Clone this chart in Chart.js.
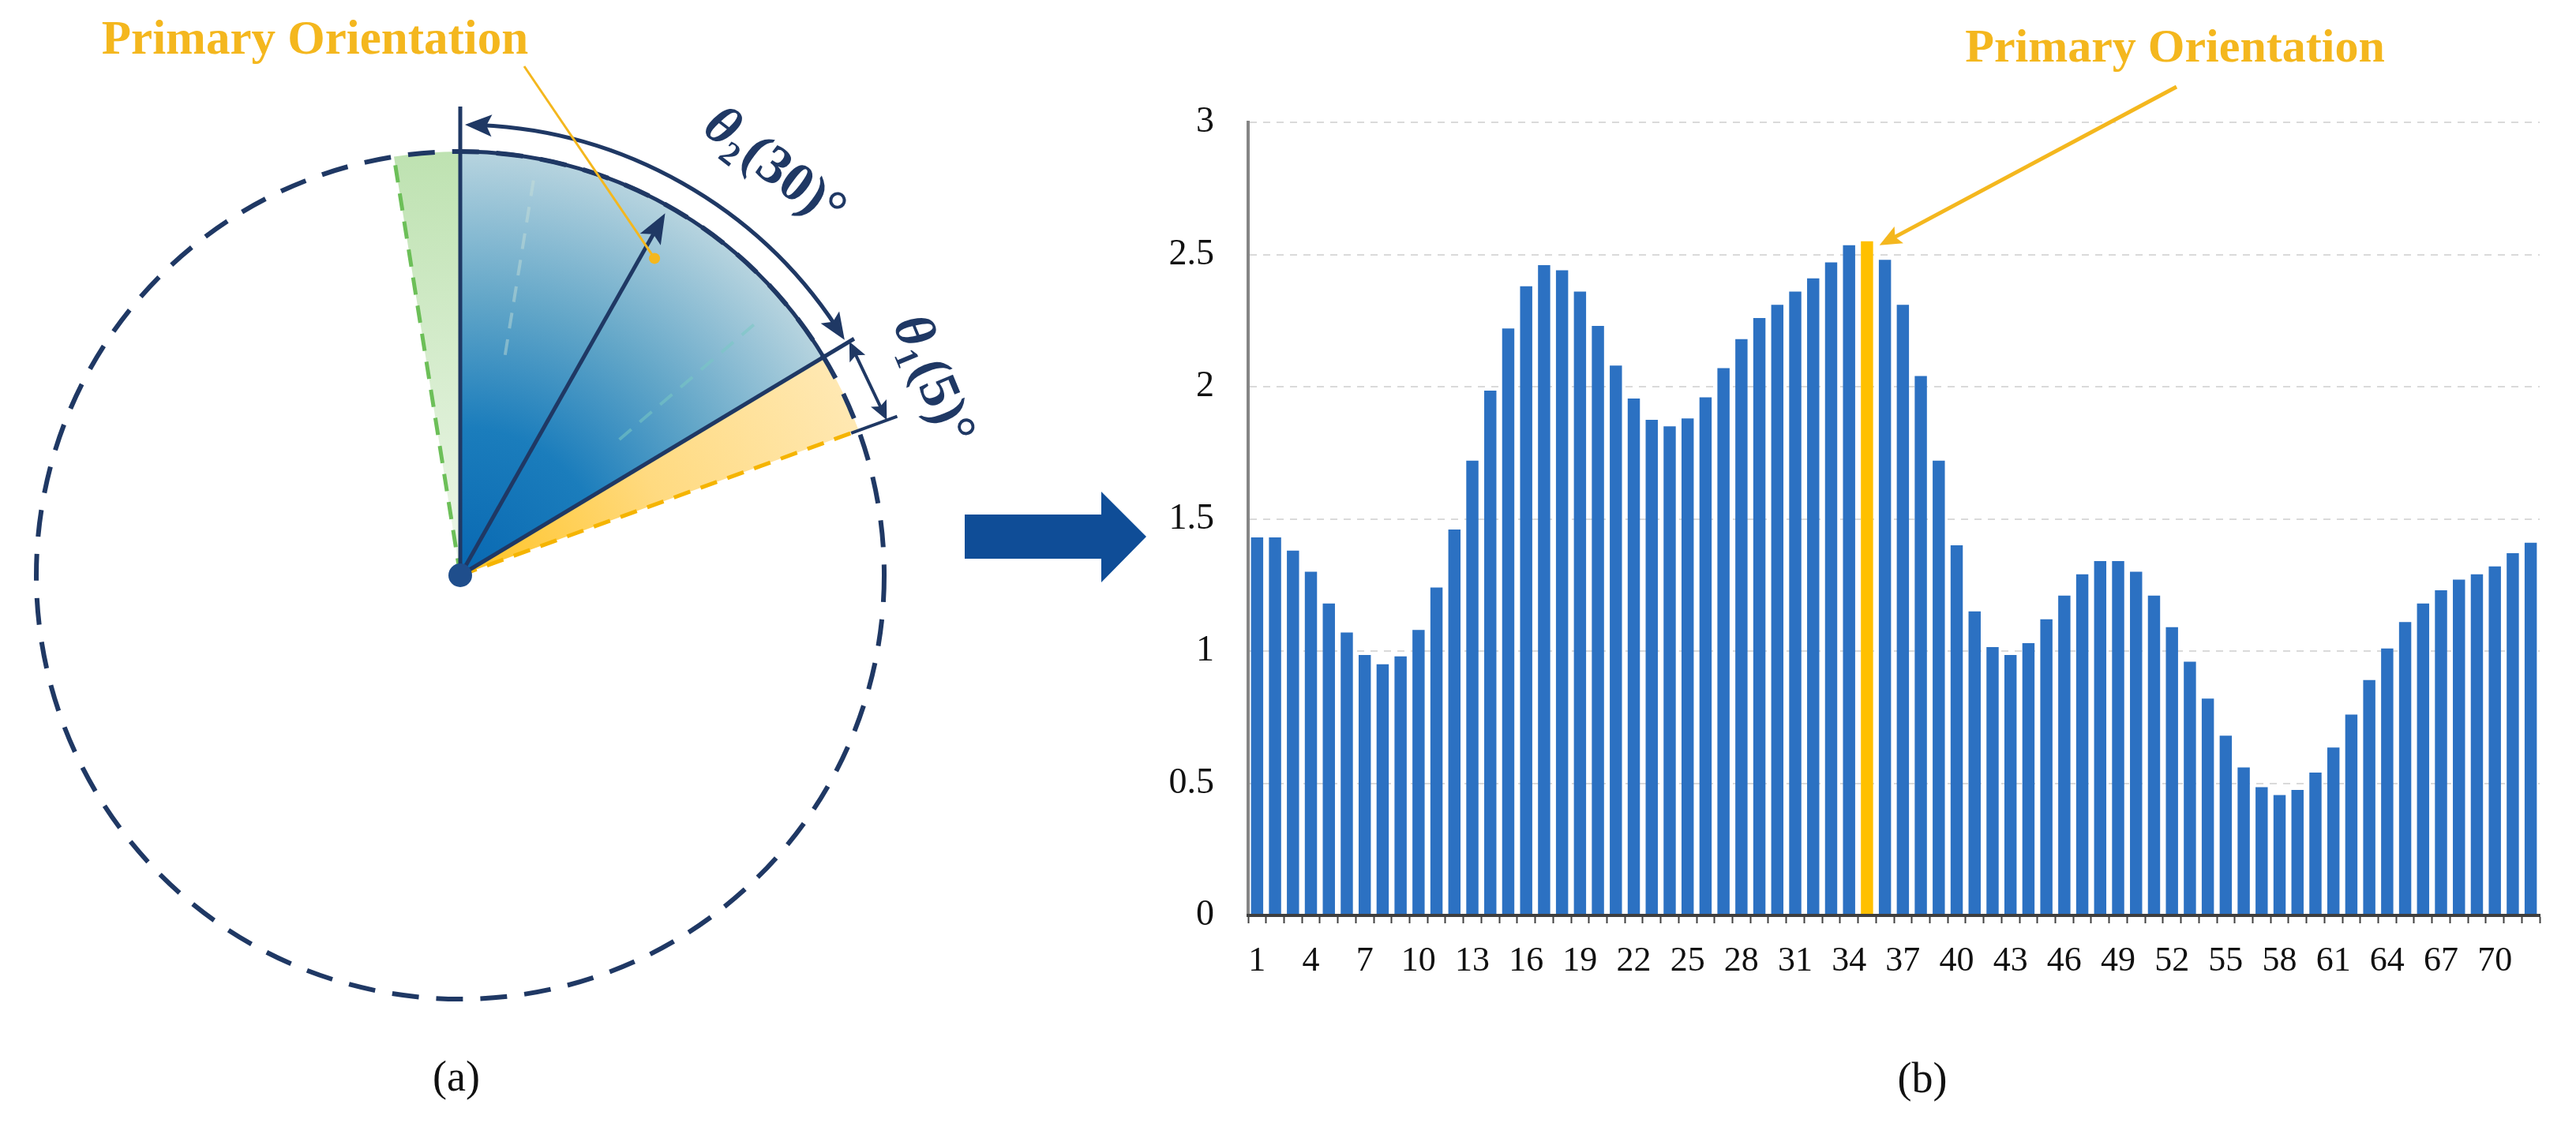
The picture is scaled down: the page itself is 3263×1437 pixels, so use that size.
<!DOCTYPE html>
<html><head><meta charset="utf-8">
<script src="https://cdn.jsdelivr.net/npm/chart.js@4.4.1/dist/chart.umd.min.js"></script>
<style>
html,body{margin:0;padding:0;background:#fff;}
body{width:3263px;height:1437px;position:relative;overflow:hidden;}
#ca{position:absolute;left:0;top:0;}
#cb{position:absolute;left:1440px;top:0;}
</style></head><body>
<canvas id="ca" width="1480" height="1437" style="width:1480px;height:1437px"></canvas>
<canvas id="cb" width="1823" height="1437" style="width:1823px;height:1437px"></canvas>
<script>
// ---------- data ----------
const binLabels = ['1','2','3','4','5','6','7','8','9','10','11','12','13','14','15','16','17','18','19','20',
  '21','22','23','24','25','26','27','28','29','30','31','32','33','34','35','36','37','38','39','40',
  '41','42','43','44','45','46','47','48','49','50','51','52','53','54','55','56','57','58','59','60',
  '61','62','63','64','65','66','67','68','69','70','71','72'];
const binValues = [1.43,1.43,1.38,1.30,1.18,1.07,0.985,0.95,0.98,1.08,
  1.24,1.46,1.72,1.985,2.22,2.38,2.46,2.44,2.36,2.23,
  2.08,1.955,1.875,1.85,1.88,1.96,2.07,2.18,2.26,2.31,
  2.36,2.41,2.47,2.535,2.55,2.48,2.31,2.04,1.72,1.40,
  1.15,1.015,0.985,1.03,1.12,1.21,1.29,1.34,1.34,1.30,
  1.21,1.09,0.96,0.82,0.68,0.56,0.485,0.455,0.475,0.54,
  0.635,0.76,0.89,1.01,1.11,1.18,1.23,1.27,1.29,1.32,
  1.37,1.41];
const tickEvery = 3;
const yMin = 0, yMax = 3, yStep = 0.5;
const sectorNames = ['Neighbour bin','θ2 window','θ1 step','Other directions'];
const sectorDegrees = [9, 59, 11, 281];
const sectorRotation = -9;
const primaryText = 'Primary Orientation';
const theta2Parts = ['θ','2','(30)°'];
const theta1Parts = ['θ','1','(5)°'];
const panelLabels = ['(a)','(b)'];

// ---------- styles ----------
const SERIF = "'Liberation Serif','Times New Roman',serif";
const NAVY = '#1F3864';
const GOLD = '#F4B71E';
const BLUE = '#2C71C2';
const YELLOW = '#FFC000';

function head(ctx, x, y, ang, len, wid, color){
  ctx.save(); ctx.translate(x,y); ctx.rotate(ang);
  ctx.beginPath(); ctx.moveTo(0,0); ctx.lineTo(-len, wid/2); ctx.lineTo(-len*0.8,0); ctx.lineTo(-len,-wid/2); ctx.closePath();
  ctx.fillStyle = color; ctx.fill(); ctx.restore();
}

// ---------- panel (a) ----------
function sectorFill(c){
  const chart = c.chart, ca = chart.chartArea;
  if (!ca) return 'rgba(0,0,0,0)';
  const cx=(ca.left+ca.right)/2, cy=(ca.top+ca.bottom)/2, r=Math.min(ca.width,ca.height)/2;
  const g = chart.ctx.createRadialGradient(cx,cy,0,cx,cy,r);
  if (c.dataIndex===0){ g.addColorStop(0,'#EEF7EA'); g.addColorStop(1,'#BEE2B1'); }
  else if (c.dataIndex===1){ g.addColorStop(0,'#0868B2'); g.addColorStop(0.35,'#1B7DBC'); g.addColorStop(0.65,'#62A6C8'); g.addColorStop(1,'#B7D4DF'); }
  else if (c.dataIndex===2){ g.addColorStop(0,'#FFC21F'); g.addColorStop(0.5,'#FFDA80'); g.addColorStop(1,'#FFE8B2'); }
  else return 'rgba(0,0,0,0)';
  return g;
}

function thetaLabel(ctx, parts, x, y, rot, size){
  ctx.save(); ctx.translate(x,y); ctx.rotate(rot);
  const f1 = `italic bold ${size}px ${SERIF}`, f2 = `bold ${Math.round(size*0.6)}px ${SERIF}`, f3 = `bold ${size}px ${SERIF}`;
  ctx.font=f1; const w1=ctx.measureText(parts[0]).width;
  ctx.font=f3; const w3=ctx.measureText(parts[2]).width;
  ctx.font=f2; const w2=ctx.measureText(parts[1]).width;
  let x0 = -(w1+w2+w3)/2;
  ctx.textBaseline='middle'; ctx.textAlign='left'; ctx.fillStyle=NAVY;
  ctx.font=f1; ctx.fillText(parts[0],x0,0); x0+=w1;
  ctx.font=f2; ctx.fillText(parts[1],x0,size*0.3); x0+=w2+3;
  ctx.font=f3; ctx.fillText(parts[2],x0,0);
  ctx.restore();
}

const diagram = {id:'diagram', afterDatasetsDraw(chart){
  const ctx = chart.ctx, arcs = chart.getDatasetMeta(0).data;
  const cx = arcs[0].x, cy = arcs[0].y, R = arcs[0].outerRadius;
  const gS = arcs[0].startAngle, bS = arcs[1].startAngle, bE = arcs[1].endAngle, yE = arcs[2].endAngle;
  const P = (a,r)=>[cx+r*Math.cos(a), cy+r*Math.sin(a)];
  const deg = Math.PI/180;
  ctx.save();
  // dashed circle
  ctx.setLineDash([34,22]); ctx.lineWidth=6; ctx.strokeStyle=NAVY;
  ctx.beginPath(); ctx.arc(cx,cy,R,0,2*Math.PI); ctx.stroke();
  // faint inner dashes
  ctx.setLineDash([20,14]); ctx.lineWidth=4; ctx.strokeStyle='rgba(120,200,195,0.55)';
  let a1=P(-40.5*deg,265), a2=P(-40.5*deg,500); ctx.beginPath(); ctx.moveTo(...a1); ctx.lineTo(...a2); ctx.stroke();
  a1=P(-78.5*deg,285); a2=P(-79.5*deg,510); ctx.strokeStyle='rgba(200,225,215,0.45)'; ctx.beginPath(); ctx.moveTo(...a1); ctx.lineTo(...a2); ctx.stroke();
  // green dashed edge
  ctx.setLineDash([22,14]); ctx.lineWidth=5; ctx.strokeStyle='#6CBF58';
  ctx.beginPath(); ctx.moveTo(cx,cy); ctx.lineTo(...P(gS,R)); ctx.stroke();
  // yellow dashed edge
  ctx.strokeStyle='#F5B400';
  ctx.beginPath(); ctx.moveTo(cx,cy); ctx.lineTo(...P(yE,R)); ctx.stroke();
  // blue sector outline
  ctx.setLineDash([]); ctx.strokeStyle=NAVY; ctx.lineWidth=5;
  ctx.beginPath(); ctx.moveTo(cx,cy); ctx.lineTo(...P(bS,R+57)); ctx.stroke();
  ctx.beginPath(); ctx.arc(cx,cy,R,bS,bE); ctx.stroke();
  ctx.beginPath(); ctx.moveTo(cx,cy); ctx.lineTo(...P(bE,R+45)); ctx.stroke();
  ctx.lineWidth=4;
  ctx.beginPath(); ctx.moveTo(...P(yE,R-10)); ctx.lineTo(...P(yE,R+52)); ctx.stroke();
  // theta2 arc arrow
  const R2 = R+34;
  ctx.lineWidth=5;
  ctx.beginPath(); ctx.arc(cx,cy,R2,bS+2.5*deg,bE-2.5*deg); ctx.stroke();
  head(ctx, ...P(bS+0.6*deg,R2), bS-Math.PI/2+2*deg, 34, 28, NAVY);
  head(ctx, ...P(bE-0.5*deg,R2), bE+Math.PI/2-2*deg, 34, 28, NAVY);
  // theta1 double arrow
  const A = P(bE,R+38), B = P(yE,R+38);
  const ang = Math.atan2(B[1]-A[1], B[0]-A[0]);
  ctx.lineWidth=4;
  ctx.beginPath(); ctx.moveTo(A[0]+12*Math.cos(ang),A[1]+12*Math.sin(ang)); ctx.lineTo(B[0]-12*Math.cos(ang),B[1]-12*Math.sin(ang)); ctx.stroke();
  head(ctx, ...B, ang, 24, 22, NAVY);
  head(ctx, ...A, ang+Math.PI, 24, 22, NAVY);
  // primary orientation arrow
  const mid = (bS+bE)/2;
  ctx.lineWidth=5;
  ctx.beginPath(); ctx.moveTo(cx,cy); ctx.lineTo(...P(mid,R-40)); ctx.stroke();
  head(ctx, ...P(mid,R-10), mid, 38, 30, NAVY);
  // centre dot
  ctx.beginPath(); ctx.arc(cx,cy,15,0,2*Math.PI); ctx.fillStyle='#1F4E8C'; ctx.fill();
  // theta labels
  const l2 = -52.5*deg, l1 = -22.6*deg;
  thetaLabel(ctx, theta2Parts, ...P(l2,650), l2+Math.PI/2, 70);
  thetaLabel(ctx, theta1Parts, ...P(l1,646), l1+Math.PI/2, 70);
  // primary orientation label + pointer
  ctx.font = `bold 61px ${SERIF}`; ctx.fillStyle=GOLD; ctx.textAlign='center'; ctx.textBaseline='middle';
  ctx.fillText(primaryText, 399, 52);
  const tgt = P(mid+2*deg, R-66);
  ctx.strokeStyle=GOLD; ctx.lineWidth=3;
  ctx.beginPath(); ctx.moveTo(664,84); ctx.lineTo(...tgt); ctx.stroke();
  ctx.beginPath(); ctx.arc(tgt[0],tgt[1],7,0,2*Math.PI); ctx.fillStyle=GOLD; ctx.fill();
  // (a)
  ctx.font = `54px ${SERIF}`; ctx.fillStyle='#111';
  ctx.fillText(panelLabels[0], 578, 1368);
  // big blue arrow
  ctx.beginPath();
  ctx.moveTo(1222,652); ctx.lineTo(1395,652); ctx.lineTo(1395,623); ctx.lineTo(1452,680);
  ctx.lineTo(1395,738); ctx.lineTo(1395,708); ctx.lineTo(1222,708); ctx.closePath();
  ctx.fillStyle='#0F4D97'; ctx.fill();
  ctx.restore();
}};

new Chart(document.getElementById('ca'), {
  type:'pie',
  data:{labels:sectorNames, datasets:[{data:sectorDegrees, backgroundColor:sectorFill, borderWidth:0, hoverOffset:0, offset:0}]},
  options:{responsive:false, animation:false, devicePixelRatio:1, events:[], rotation:sectorRotation,
    layout:{padding:{left:46, top:192, right:360, bottom:171}},
    plugins:{legend:{display:false}, tooltip:{enabled:false}}},
  plugins:[diagram]
});

// ---------- panel (b) ----------
const primaryIndex = binValues.indexOf(Math.max(...binValues));

const annot = {id:'annot', afterDraw(chart){
  const ctx = chart.ctx;
  const bar = chart.getDatasetMeta(0).data[primaryIndex];
  const tipX = bar.x + bar.width/2 + 8, tipY = bar.y + 5;
  ctx.save();
  ctx.font = `bold 60px ${SERIF}`; ctx.fillStyle=GOLD; ctx.textAlign='center'; ctx.textBaseline='middle';
  ctx.fillText(primaryText, 1315, 62);
  const sx = 1317, sy = 110;
  const ang = Math.atan2(tipY-sy, tipX-sx);
  ctx.strokeStyle=GOLD; ctx.lineWidth=5;
  ctx.beginPath(); ctx.moveTo(sx,sy); ctx.lineTo(tipX-20*Math.cos(ang), tipY-20*Math.sin(ang)); ctx.stroke();
  head(ctx, tipX, tipY, ang, 28, 24, GOLD);
  ctx.font = `54px ${SERIF}`; ctx.fillStyle='#111';
  ctx.fillText(panelLabels[1], 995, 1370);
  ctx.restore();
}};

new Chart(document.getElementById('cb'), {
  type:'bar',
  data:{labels:binLabels, datasets:[{data:binValues,
    backgroundColor:(c)=> c.dataIndex===primaryIndex ? YELLOW : BLUE,
    borderWidth:0, barPercentage:0.68, categoryPercentage:1}]},
  options:{responsive:false, animation:false, devicePixelRatio:1, events:[],
    layout:{padding:{left:0, right:46, top:155, bottom:0}},
    plugins:{legend:{display:false}, tooltip:{enabled:false}},
    scales:{
      x:{grid:{display:true, drawOnChartArea:false, drawTicks:true, tickLength:10, tickColor:'#404040', tickWidth:2, color:'#404040'},
         border:{display:true, color:'#3f3f3f', width:4, z:1},
         ticks:{autoSkip:false, maxRotation:0, minRotation:0, padding:22, color:'#111', font:{family:SERIF, size:44},
           callback:(v,i)=> i % tickEvery === 0 ? binLabels[i] : ''},
         afterFit:(s)=>{ s.height = 277; }},
      y:{min:yMin, max:yMax,
         ticks:{stepSize:yStep, padding:43, color:'#111', font:{family:SERIF, size:46}, callback:(v)=> String(v)},
         grid:{drawTicks:false, lineWidth:2, color:(c)=> (c.tick && c.tick.value===0) ? 'rgba(0,0,0,0)' : '#DADADA'},
         border:{display:true, color:'#858585', width:4, dash:[9,8]},
         afterFit:(s)=>{ s.width = 141; }}
    }
  },
  plugins:[annot]
});
</script>
</body></html>
